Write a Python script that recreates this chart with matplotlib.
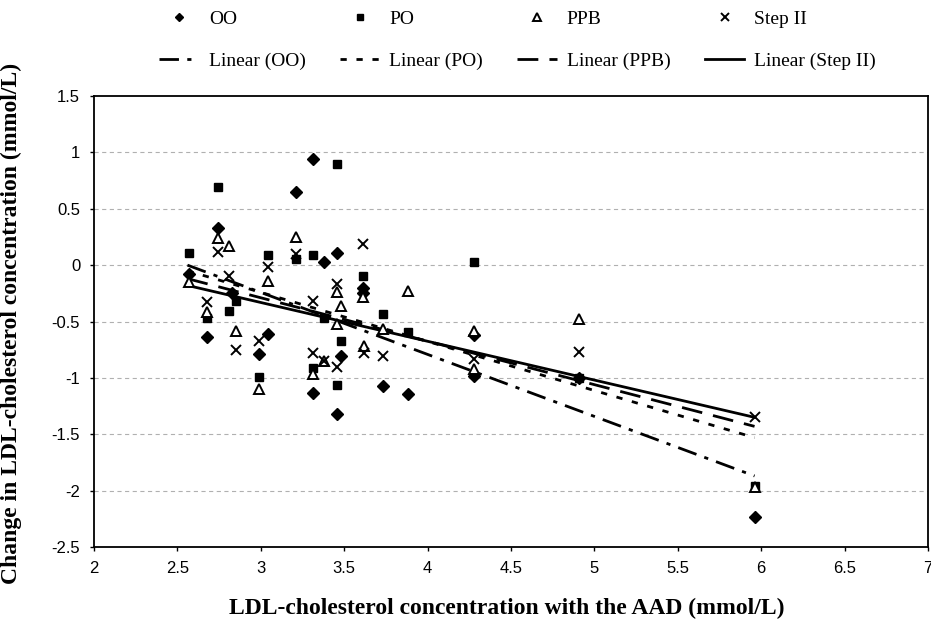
import matplotlib

matplotlib.use("Agg")
import matplotlib.pyplot as plt

# valores (x = LDL com AAD, y = variacao de LDL)
oo_x = [2.57, 2.68, 2.745, 2.83, 2.99, 3.04, 3.21, 3.31, 3.31, 3.38, 3.455,
        3.48, 3.455, 3.61, 3.61, 3.73, 3.88, 4.28, 4.28, 4.91, 5.96]
oo_y = [-0.08, -0.64, 0.33, -0.25, -0.79, -0.61, 0.65, 0.94, -1.13, 0.03, 0.11,
        -0.81, -1.32, -0.20, -0.25, -1.07, -1.14, -0.62, -0.98, -1.00, -2.23]

po_x = [2.57, 2.68, 2.745, 2.81, 2.85, 2.99, 3.04, 3.21, 3.31, 3.31, 3.38,
        3.455, 3.455, 3.48, 3.61, 3.73, 3.88, 4.28, 4.91, 5.96]
po_y = [0.11, -0.47, 0.69, -0.41, -0.32, -0.99, 0.09, 0.05, 0.09, -0.91, -0.47,
        0.90, -1.06, -0.67, -0.10, -0.43, -0.59, 0.03, -1.00, -1.96]

ppb_x = [2.57, 2.68, 2.745, 2.81, 2.85, 2.99, 3.04, 3.21, 3.31, 3.38, 3.455,
         3.455, 3.48, 3.61, 3.62, 3.73, 3.88, 4.28, 4.28, 4.91, 5.96]
ppb_y = [-0.15, -0.42, 0.24, 0.17, -0.58, -1.10, -0.14, 0.25, -0.97, -0.85, -0.24,
         -0.52, -0.36, -0.28, -0.72, -0.57, -0.23, -0.58, -0.92, -0.48, -1.97]

step_x = [2.68, 2.745, 2.81, 2.85, 2.99, 3.04, 3.21, 3.31, 3.31, 3.38, 3.455,
          3.455, 3.61, 3.62, 3.73, 4.28, 4.91, 5.96]
step_y = [-0.33, 0.12, -0.10, -0.75, -0.67, -0.02, 0.10, -0.32, -0.78, -0.85, -0.17,
          -0.90, 0.19, -0.78, -0.81, -0.83, -0.77, -1.35]

# linhas de tendencia (inicio e fim)
trend_x = [2.56, 5.96]
trend_oo = [0.00, -1.87]
trend_po = [-0.05, -1.53]
trend_ppb = [-0.12, -1.43]
trend_step = [-0.18, -1.35]

y_ticks = [-2.5, -2, -1.5, -1, -0.5, 0, 0.5, 1, 1.5]
x_ticks = [2, 2.5, 3, 3.5, 4, 4.5, 5, 5.5, 6, 6.5, 7]

plt.rcParams["lines.scale_dashes"] = False

fig = plt.figure(figsize=(9.31, 6.25), dpi=100)
ax = fig.add_axes([0.101, 0.1248, 0.8958, 0.7216])

ax.set_xlim(2, 7)
ax.set_ylim(-2.5, 1.5)
ax.set_xticks(x_ticks)
ax.set_yticks(y_ticks)
ax.set_xticklabels([f"{v:g}" for v in x_ticks])
ax.set_yticklabels([f"{v:g}" for v in y_ticks])

for v in y_ticks[1:-1]:
    ax.axhline(v, color="#b0b0b0", linewidth=0.8, linestyle=(0, (3, 2.5)), zorder=0)

ax.plot(trend_x, trend_oo, color="black", linewidth=2.0,
        dashes=(14, 6, 3, 6), label="Linear (OO)", zorder=2)
ax.plot(trend_x, trend_po, color="black", linewidth=2.0,
        dashes=(4.5, 7), label="Linear (PO)", zorder=2)
ax.plot(trend_x, trend_ppb, color="black", linewidth=2.0,
        dashes=(15, 8), label="Linear (PPB)", zorder=2)
ax.plot(trend_x, trend_step, color="black", linewidth=2.0,
        linestyle="-", label="Linear (Step II)", zorder=2)

ax.plot(oo_x, oo_y, linestyle="none", marker="D", markersize=5.8,
        color="black", label="OO", zorder=3)
ax.plot(po_x, po_y, linestyle="none", marker="s", markersize=6.4,
        color="black", label="PO", zorder=3)
ax.plot(ppb_x, ppb_y, linestyle="none", marker="^", markersize=6.8,
        markerfacecolor="white", markeredgecolor="black", markeredgewidth=1.4,
        label="PPB", zorder=3)
ax.plot(step_x, step_y, linestyle="none", marker="x", markersize=6.8,
        markeredgewidth=1.4, color="black", label="Step II", zorder=3)

for s in ax.spines.values():
    s.set_linewidth(1.3)
    s.set_color("black")

ax.tick_params(direction="out", length=3, width=1, labelsize=12, pad=7)
for lab in ax.get_xticklabels() + ax.get_yticklabels():
    lab.set_fontfamily("Liberation Sans")

fig.text(507 / 931, 1 - 608 / 625,
         "LDL-cholesterol concentration with the AAD (mmol/L)",
         fontfamily="Liberation Serif", fontweight="bold", fontsize=17,
         ha="center", va="center")
fig.text(11 / 931, 1 - 323 / 625,
         "Change in LDL-cholesterol concentration (mmol/L)",
         fontfamily="Liberation Serif", fontweight="bold", fontsize=17,
         ha="center", va="center", rotation=90)

handles, labels = ax.get_legend_handles_labels()
ordem = ["OO", "Linear (OO)", "PO", "Linear (PO)", "PPB", "Linear (PPB)",
         "Step II", "Linear (Step II)"]
hmap = dict(zip(labels, handles))
fig.legend([hmap[k] for k in ordem], ordem, ncol=4, loc="center",
           bbox_to_anchor=(0.556, 0.936), frameon=False,
           prop={"family": "Liberation Serif", "size": 14},
           handlelength=2.05, handletextpad=0.5, columnspacing=1.75,
           labelspacing=1.25, markerscale=0.75)

fig.savefig("out.png", dpi=100)
